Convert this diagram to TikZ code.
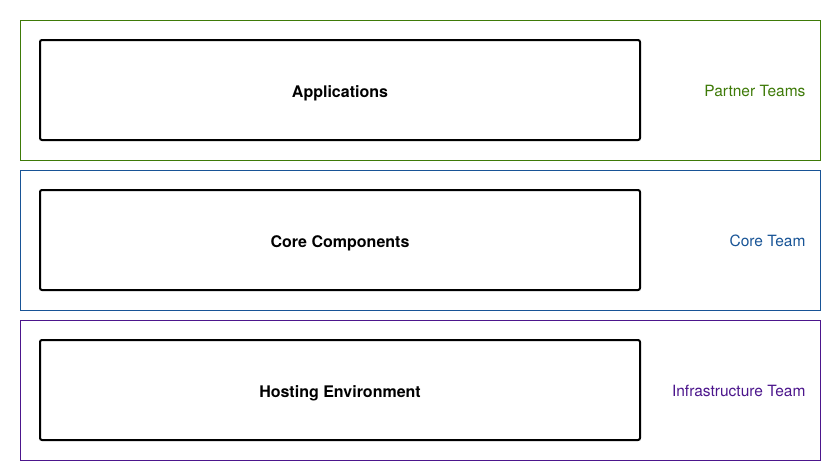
\documentclass[tikz,border=0pt]{standalone}
\usepackage{fontspec}
\setmainfont{TeX Gyre Heros}
\usepackage{xcolor}
\definecolor{partner}{RGB}{62,122,8}
\definecolor{coreblue}{RGB}{24,84,150}
\definecolor{infra}{RGB}{76,22,140}

\tikzset{
  teambox/.style={draw,line width=1pt,minimum width=800pt,minimum height=140pt,inner sep=0pt},
  layerbox/.style={draw,black,line width=2pt,rounded corners=2pt,minimum width=600pt,minimum height=100pt,
    text height=16pt,text depth=2pt,font=\fontsize{16}{19}\selectfont\bfseries},
  teamlabel/.style={anchor=east,font=\fontsize{15.5}{18}\selectfont}
}

\begin{document}
\begin{tikzpicture}[x=1pt,y=-1pt]
  \useasboundingbox (0,0) rectangle (824,464);
  \node[teambox,partner] (partnerbox) at (420.5,90.5) {};
  \node[teambox,coreblue] (corebox) at (420.5,240.5) {};
  \node[teambox,infra] (infrabox) at (420.5,390.5) {};
  \node[layerbox] (apps) at (340,90) {Applications};
  \node[layerbox] (core) at (340,240) {Core Components};
  \node[layerbox] (hosting) at (340,390) {Hosting Environment};
  \node[teamlabel,partner] (partnerlabel) at (809,91) {Partner Teams};
  \node[teamlabel,coreblue] (corelabel) at (809,241) {Core Team};
  \node[teamlabel,infra] (infralabel) at (809,391) {Infrastructure Team};
\end{tikzpicture}
\end{document}
